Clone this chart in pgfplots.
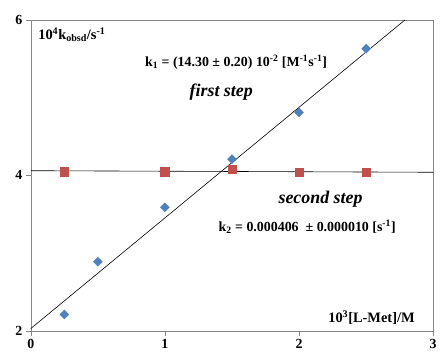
\documentclass[border=0pt]{standalone}
\usepackage{fontspec}
\setmainfont{Liberation Serif}
\usepackage{pgfplots}
\pgfplotsset{compat=1.18}
\definecolor{cblue}{RGB}{79,129,189}
\definecolor{cred}{RGB}{192,80,77}
\definecolor{cgray}{RGB}{134,134,134}
\begin{document}
\begin{tikzpicture}
\path (-31pt,-21pt) rectangle (409pt,333pt);
\begin{axis}[
  at={(0pt,0pt)}, anchor=south west,
  scale only axis, width=405pt, height=313pt,
  xmin=0, xmax=3, ymin=2, ymax=6,
  xtick={0,1,2,3}, ytick={2,4,6},
  xticklabels={0,1,2,3}, yticklabels={2,4,6},
  axis line style={cgray},
  tick style={cgray, major tick length=5pt},
  tick align=outside, xtick pos=bottom, ytick pos=left,
  ticklabel style={font=\fontsize{14}{16}\selectfont\bfseries},
  clip=false,
]
\addplot[black, line width=0.6pt, no marks] coordinates {(0,2.03) (2.79,6.0)};
\addplot[black, line width=0.6pt, no marks] coordinates {(0,4.06) (3,4.04)};
\addplot[only marks, mark=square*, mark options={draw=cblue, fill=cblue, rotate=45}, mark size=3.2pt] coordinates {
(0.25,2.21) (0.5,2.89) (1,3.59) (1.5,4.21) (2,4.81) (2.5,5.63)};
\addplot[only marks, mark=square*, mark options={draw=cred, fill=cred}, mark size=4.3pt] coordinates {
(0.25,4.05) (1,4.05) (1.5,4.08) (2,4.04) (2.5,4.04)};
\node[anchor=west, font=\fontsize{14.5}{16}\selectfont\bfseries] at (axis cs:0.03,5.81) {10\textsuperscript{4}k\textsubscript{obsd}/s\textsuperscript{-1}};
\node[font=\fontsize{14}{16}\selectfont\bfseries] at (axis cs:1.53,5.46) {k\textsubscript{1} = (14.30 ± 0.20) 10\textsuperscript{-2} [M\textsuperscript{-1}s\textsuperscript{-1}]};
\node[font=\fontsize{18}{20}\selectfont\bfseries\itshape] at (axis cs:1.42,5.07) {first step};
\node[font=\fontsize{18}{20}\selectfont\bfseries\itshape] at (axis cs:2.16,3.69) {second step};
\node[font=\fontsize{14}{16}\selectfont\bfseries] at (axis cs:2.06,3.34) {k\textsubscript{2} = 0.000406 \ ± 0.000010 [s\textsuperscript{-1}]};
\node[font=\fontsize{14.5}{16}\selectfont\bfseries] at (axis cs:2.54,2.17) {10\textsuperscript{3}[L-Met]/M};
\end{axis}
\end{tikzpicture}
\end{document}
